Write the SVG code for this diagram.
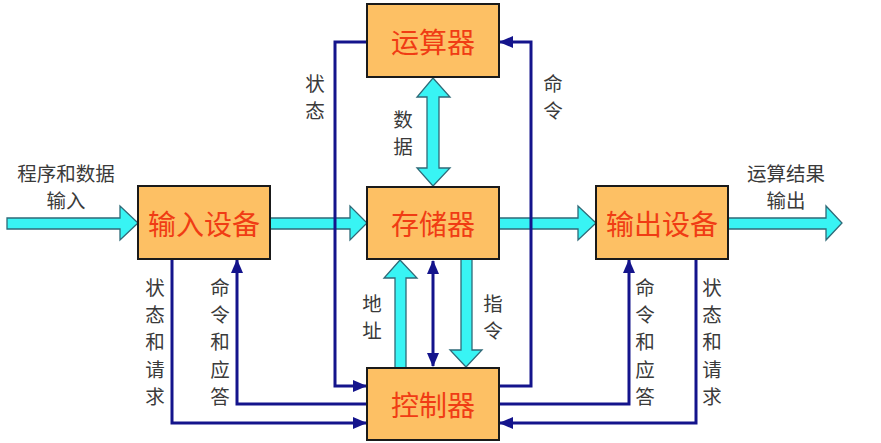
<svg xmlns="http://www.w3.org/2000/svg" width="881" height="443" viewBox="0 0 881 443">
<style>
.box{fill:#fdc064;stroke:#1a1a1a;stroke-width:2}
.bt{font-family:"Noto Sans CJK SC","Noto Sans CJK JP",sans-serif;font-size:28px;fill:#f03c14;text-anchor:middle;dominant-baseline:central}
.lb{font-family:"Noto Sans CJK SC","Noto Sans CJK JP",sans-serif;font-size:19.5px;fill:#3a3a3a;text-anchor:middle;dominant-baseline:central}
.ca{fill:#38f4f4;stroke:#2f6a78;stroke-width:1.3;stroke-linejoin:miter}
.bl{fill:none;stroke:#14148c;stroke-width:3}
</style>
<defs>
<marker id="ah" markerUnits="userSpaceOnUse" markerWidth="14" markerHeight="14" viewBox="0 0 14 14" refX="13" refY="7" orient="auto-start-reverse">
<path d="M0,1 L14,7 L0,13 Z" fill="#14148c"/>
</marker>
</defs>
<g id="connectors">
<polygon class="ca" points="7,218 120,218 120,206 138,223 120,240 120,229 7,229"/>
<polygon class="ca" points="270,218 350,218 350,206 367,223 350,240 350,229 270,229"/>
<polygon class="ca" points="499,218 578,218 578,206 596,223 578,240 578,229 499,229"/>
<polygon class="ca" points="728,218 826,218 826,206 842,223 826,240 826,229 728,229"/>
<polygon class="ca" points="433,78 450,97 439,97 439,168 450,168 433,186 417,168 427,168 427,97 417,97"/>
<polygon class="ca" points="400,260 417,278 406,278 406,368 395,368 395,278 384,278"/>
<polygon class="ca" points="461,259 472,259 472,350 482,350 466,367 450,350 461,350"/>
<line class="bl" x1="433" y1="261" x2="433" y2="366" marker-start="url(#ah)" marker-end="url(#ah)"/>
<polyline class="bl" points="367,42 335,42 335,386 366,386" marker-end="url(#ah)"/>
<polyline class="bl" points="499,386 531,386 531,42 500,42" marker-end="url(#ah)"/>
<polyline class="bl" points="172,259 172,423 366,423" marker-end="url(#ah)"/>
<polyline class="bl" points="367,404 237,404 237,260" marker-end="url(#ah)"/>
<polyline class="bl" points="499,404 629,404 629,260" marker-end="url(#ah)"/>
<polyline class="bl" points="696,259 696,423 500,423" marker-end="url(#ah)"/>
</g>
<g id="alu"><rect class="box" x="367" y="4" width="132" height="73"/><text class="bt" x="433" y="41">运算器</text></g>
<g id="memory"><rect class="box" x="367" y="187" width="132" height="72"/><text class="bt" x="433" y="223">存储器</text></g>
<g id="controller"><rect class="box" x="367" y="368" width="132" height="72"/><text class="bt" x="433" y="404">控制器</text></g>
<g id="input"><rect class="box" x="138" y="186" width="132" height="73"/><text class="bt" x="204" y="223">输入设备</text></g>
<g id="output"><rect class="box" x="596" y="186" width="132" height="73"/><text class="bt" x="662" y="223">输出设备</text></g>
<g id="labels">
<text class="lb" x="66" y="172">程序和数据</text>
<text class="lb" x="66" y="199">输入</text>
<text class="lb" x="786" y="172">运算结果</text>
<text class="lb" x="786" y="199">输出</text>
<text class="lb" x="315" y="82">状</text><text class="lb" x="315" y="109">态</text>
<text class="lb" x="553" y="82">命</text><text class="lb" x="553" y="109">令</text>
<text class="lb" x="403" y="118">数</text><text class="lb" x="403" y="145">据</text>
<text class="lb" x="372" y="302">地</text><text class="lb" x="372" y="329">址</text>
<text class="lb" x="493" y="302">指</text><text class="lb" x="493" y="329">令</text>
<text class="lb" x="155" y="286">状</text><text class="lb" x="155" y="313">态</text><text class="lb" x="155" y="340">和</text><text class="lb" x="155" y="368">请</text><text class="lb" x="155" y="395">求</text>
<text class="lb" x="220" y="286">命</text><text class="lb" x="220" y="313">令</text><text class="lb" x="220" y="340">和</text><text class="lb" x="220" y="368">应</text><text class="lb" x="220" y="395">答</text>
<text class="lb" x="645" y="286">命</text><text class="lb" x="645" y="313">令</text><text class="lb" x="645" y="340">和</text><text class="lb" x="645" y="368">应</text><text class="lb" x="645" y="395">答</text>
<text class="lb" x="712" y="286">状</text><text class="lb" x="712" y="313">态</text><text class="lb" x="712" y="340">和</text><text class="lb" x="712" y="368">请</text><text class="lb" x="712" y="395">求</text>
</g>
</svg>
